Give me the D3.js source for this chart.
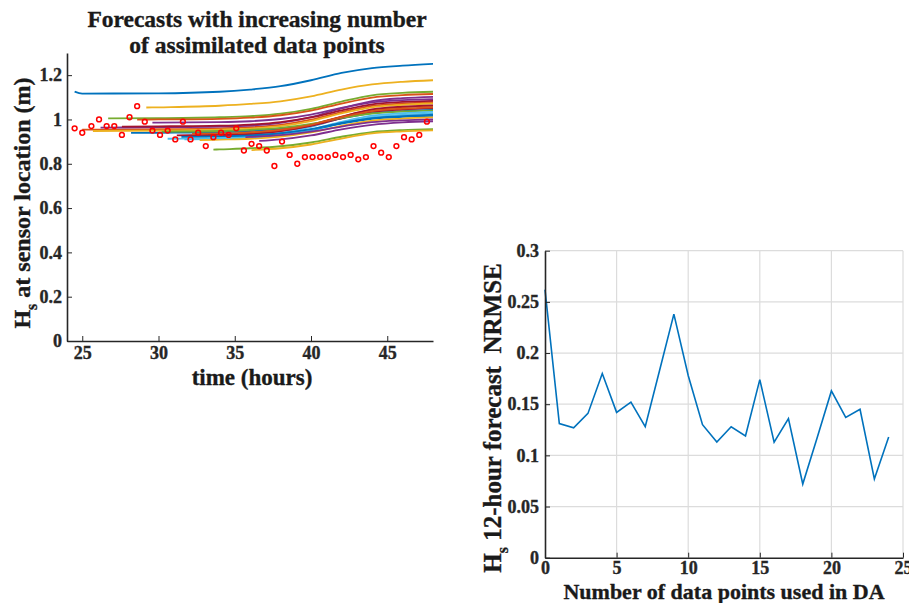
<!DOCTYPE html>
<html>
<head>
<meta charset="utf-8">
<script src="https://cdn.jsdelivr.net/npm/d3@7"></script>
<style>
  body { margin: 0; background: #fff; }
  svg { display: block; }
  text { font-family: "Liberation Serif", "Times New Roman", serif; font-weight: bold; fill: #1a1a1a; stroke: #1a1a1a; stroke-width: 0.35; white-space: pre; }
  .axis path, .axis line { stroke: #262626; }
  .axis text { font-size: 18px; fill: #262626; stroke: #262626; font-family: "Liberation Serif", serif; font-weight: bold; }
</style>
</head>
<body>
<script>
// ---- data: left panel (observations + forecasts) ----
const obsTime = [24.5, 25.0, 25.6, 26.1, 26.6, 27.1, 27.6, 28.1, 28.6, 29.1, 29.6, 30.1, 30.6, 31.1,
  31.6, 32.1, 32.6, 33.1, 33.6, 34.1, 34.6, 35.1, 35.6, 36.1, 36.6, 37.1, 37.6, 38.1, 38.6, 39.1,
  39.6, 40.1, 40.6, 41.1, 41.6, 42.1, 42.6, 43.1, 43.6, 44.1, 44.6, 45.1, 45.6, 46.1, 46.6, 47.1, 47.6];
const obsHs = [0.96, 0.94, 0.97, 1.00, 0.97, 0.97, 0.93, 1.01, 1.06, 0.99, 0.95, 0.93, 0.95, 0.91,
  0.99, 0.91, 0.94, 0.88, 0.92, 0.94, 0.93, 0.96, 0.86, 0.89, 0.88, 0.86, 0.79, 0.90, 0.84, 0.80,
  0.83, 0.83, 0.83, 0.83, 0.84, 0.83, 0.84, 0.82, 0.83, 0.88, 0.85, 0.83, 0.88, 0.92, 0.91, 0.93, 0.99];

const fcStart = [24.5, 25.0, 29.2, 26.2, 26.7, 30.6, 27.6, 28.2, 28.6, 25.7, 29.6, 33.6, 31.7,
  31.2, 31.5, 32.2, 32.7, 36.6, 30.2, 33.2, 34.2, 34.7, 35.2, 36.1, 35.7];
const fcStartVal = [1.126, 0.954, 1.054, 0.963, 1.005, 0.913, 0.968, 0.939, 0.999, 0.948, 0.986, 0.864, 0.910,
  0.928, 0.921, 0.935, 0.907, 0.903, 0.945, 0.915, 0.930, 0.925, 0.940, 0.862, 0.920];
const fcKnots = [25, 30, 34, 36, 38, 40, 42, 44, 46, 48];
const fcVals = [
  [1.117, 1.118, 1.125, 1.135, 1.150, 1.177, 1.210, 1.232, 1.243, 1.251],
  [null, 0.956, 0.960, 0.965, 0.976, 0.999, 1.033, 1.061, 1.072, 1.078],
  [null, 1.055, 1.062, 1.070, 1.082, 1.104, 1.135, 1.158, 1.170, 1.177],
  [null, 0.965, 0.968, 0.972, 0.985, 1.011, 1.050, 1.083, 1.096, 1.102],
  [null, 1.006, 1.010, 1.015, 1.026, 1.048, 1.081, 1.109, 1.120, 1.125],
  [null, null, 0.918, 0.925, 0.939, 0.966, 1.007, 1.041, 1.054, 1.061],
  [null, 0.969, 0.972, 0.977, 0.988, 1.009, 1.041, 1.068, 1.079, 1.084],
  [null, 0.940, 0.943, 0.948, 0.958, 0.977, 1.005, 1.029, 1.038, 1.043],
  [null, 1.000, 1.003, 1.008, 1.019, 1.040, 1.072, 1.099, 1.110, 1.115],
  [null, 0.950, 0.954, 0.959, 0.970, 0.993, 1.027, 1.055, 1.066, 1.072],
  [null, 0.986, 0.988, 0.992, 1.002, 1.022, 1.052, 1.077, 1.087, 1.092],
  [null, null, 0.865, 0.870, 0.879, 0.896, 0.922, 0.943, 0.952, 0.956],
  [null, null, 0.913, 0.918, 0.929, 0.950, 0.983, 1.010, 1.021, 1.026],
  [null, null, 0.931, 0.936, 0.948, 0.971, 1.005, 1.034, 1.045, 1.051],
  [null, null, 0.924, 0.928, 0.937, 0.954, 0.981, 1.003, 1.012, 1.016],
  [null, null, 0.937, 0.941, 0.953, 0.977, 1.013, 1.043, 1.055, 1.061],
  [null, null, 0.909, 0.913, 0.923, 0.942, 0.971, 0.995, 1.004, 1.009],
  [null, null, null, null, 0.910, 0.928, 0.955, 0.976, 0.987, 0.992],
  [null, null, 0.948, 0.953, 0.962, 0.980, 1.007, 1.027, 1.036, 1.040],
  [null, null, 0.916, 0.921, 0.932, 0.955, 0.989, 1.017, 1.028, 1.034],
  [null, null, null, 0.934, 0.947, 0.973, 1.012, 1.045, 1.058, 1.064],
  [null, null, null, 0.928, 0.937, 0.956, 0.984, 1.006, 1.015, 1.022],
  [null, null, null, 0.942, 0.953, 0.976, 1.010, 1.038, 1.049, 1.055],
  [null, null, null, null, 0.870, 0.887, 0.914, 0.937, 0.946, 0.951],
  [null, null, null, 0.921, 0.929, 0.945, 0.968, 0.988, 0.996, 1.000]
];
const leftXTicks = [25, 30, 35, 40, 45];
const leftYTicks = [0, 0.2, 0.4, 0.6, 0.8, 1, 1.2];

// ---- data: right panel (NRMSE vs number of points) ----
const nPoints = d3.range(0, 25);
const nrmse = [0.262, 0.131, 0.127, 0.141, 0.180, 0.142, 0.152, 0.128, 0.183, 0.238, 0.178, 0.130,
  0.113, 0.128, 0.119, 0.174, 0.113, 0.136, 0.072, 0.117, 0.163, 0.137, 0.145, 0.077, 0.118];
const rightXTicks = [0, 5, 10, 15, 20, 25];
const rightYTicks = [0, 0.05, 0.1, 0.15, 0.2, 0.25, 0.3];

const colors = ['#0072BD', '#D95319', '#EDB120', '#7E2F8E', '#77AC30', '#4DBEEE', '#A2142F'];
const fmt = d3.format('~g');

const svg = d3.select('body').append('svg')
  .attr('width', 909)
  .attr('height', 603);

// ================= left panel =================
const xl = d3.scaleLinear().domain([24, 48]).range([67, 433]);
const yl = d3.scaleLinear().domain([0, 1.3]).range([341, 53]);

const left = svg.append('g');

const line = d3.line()
  .x((d) => xl(d[0]))
  .y((d) => yl(d[1]))
  .curve(d3.curveMonotoneX);

const fcData = fcStart.map((t0, i) => {
  const pts = [[t0, fcStartVal[i]]];
  fcKnots.forEach((k, j) => {
    if (fcVals[i][j] !== null && k > t0) pts.push([k, fcVals[i][j]]);
  });
  return pts;
});

left.selectAll('path.fc').data(fcData).join('path')
  .attr('class', 'fc')
  .attr('d', line)
  .attr('fill', 'none')
  .attr('stroke', (d, i) => colors[i % colors.length])
  .attr('stroke-width', 1.8);

left.selectAll('circle.obs').data(obsTime).join('circle')
  .attr('class', 'obs')
  .attr('cx', (d) => xl(d))
  .attr('cy', (d, i) => yl(obsHs[i]))
  .attr('r', 2.4)
  .attr('fill', 'none')
  .attr('stroke', '#FF0000')
  .attr('stroke-width', 1.5);

left.append('g').attr('class', 'axis')
  .attr('transform', `translate(0, ${yl(0)})`)
  .call(d3.axisBottom(xl).tickValues(leftXTicks).tickFormat(fmt).tickSizeInner(-5).tickSizeOuter(0).tickPadding(5))
  .call((g) => g.select('.domain').attr('stroke-width', 1.6));

left.append('g').attr('class', 'axis')
  .attr('transform', `translate(${xl(24)}, 0)`)
  .call(d3.axisLeft(yl).tickValues(leftYTicks).tickFormat(fmt).tickSizeInner(-5).tickSizeOuter(0).tickPadding(5))
  .call((g) => g.select('.domain').attr('stroke-width', 1.6));

left.append('text')
  .attr('x', 257).attr('y', 27)
  .attr('text-anchor', 'middle')
  .attr('font-size', 23.5)
  .text('Forecasts with increasing number');
left.append('text')
  .attr('x', 257).attr('y', 53)
  .attr('text-anchor', 'middle')
  .attr('font-size', 23.5)
  .text('of assimilated data points');

left.append('text')
  .attr('x', 252).attr('y', 385)
  .attr('text-anchor', 'middle')
  .attr('font-size', 23)
  .text('time (hours)');

const ylab = left.append('text')
  .attr('transform', 'translate(30, 203) rotate(-90)')
  .attr('text-anchor', 'middle')
  .attr('font-size', 24);
ylab.append('tspan').text('H');
ylab.append('tspan').attr('dy', 7).attr('font-size', 16).text('s');
ylab.append('tspan').attr('dy', -7).text(' at sensor location (m)');

// ================= right panel =================
const xr = d3.scaleLinear().domain([0, 25]).range([545, 903]);
const yr = d3.scaleLinear().domain([0, 0.3]).range([557.7, 250.7]);

const right = svg.append('g');

// grid
right.append('g').selectAll('line').data(rightXTicks.slice(1)).join('line')
  .attr('x1', (d) => xr(d)).attr('x2', (d) => xr(d))
  .attr('y1', yr(0)).attr('y2', yr(0.3))
  .attr('stroke', '#dcdcdc').attr('stroke-width', 1.2);
right.append('g').selectAll('line').data(rightYTicks.slice(1)).join('line')
  .attr('x1', xr(0)).attr('x2', xr(25))
  .attr('y1', (d) => yr(d)).attr('y2', (d) => yr(d))
  .attr('stroke', '#dcdcdc').attr('stroke-width', 1.2);

right.append('path')
  .datum(nPoints)
  .attr('d', d3.line().x((d) => xr(d)).y((d, i) => yr(nrmse[i])))
  .attr('fill', 'none')
  .attr('stroke', '#0072BD')
  .attr('stroke-width', 1.6);

right.append('g').attr('class', 'axis')
  .attr('transform', `translate(0, ${yr(0)})`)
  .call(d3.axisBottom(xr).tickValues(rightXTicks).tickFormat(fmt).tickSizeInner(-5).tickSizeOuter(0).tickPadding(4))
  .call((g) => g.select('.domain').attr('stroke-width', 1.6));

right.append('g').attr('class', 'axis')
  .attr('transform', `translate(${xr(0)}, 0)`)
  .call(d3.axisLeft(yr).tickValues(rightYTicks).tickFormat(fmt).tickSizeInner(-5).tickSizeOuter(0).tickPadding(6))
  .call((g) => g.select('.domain').attr('stroke-width', 1.6));

right.append('text')
  .attr('x', 724).attr('y', 599)
  .attr('text-anchor', 'middle')
  .attr('font-size', 22)
  .text('Number of data points used in DA');

const ylab2 = right.append('text')
  .attr('transform', 'translate(501, 418) rotate(-90)')
  .attr('text-anchor', 'middle')
  .attr('font-size', 25);
ylab2.append('tspan').text('H');
ylab2.append('tspan').attr('dy', 7).attr('font-size', 16).text('s');
ylab2.append('tspan').attr('dy', -7).text(' 12-hour forecast  NRMSE');
</script>
</body>
</html>
